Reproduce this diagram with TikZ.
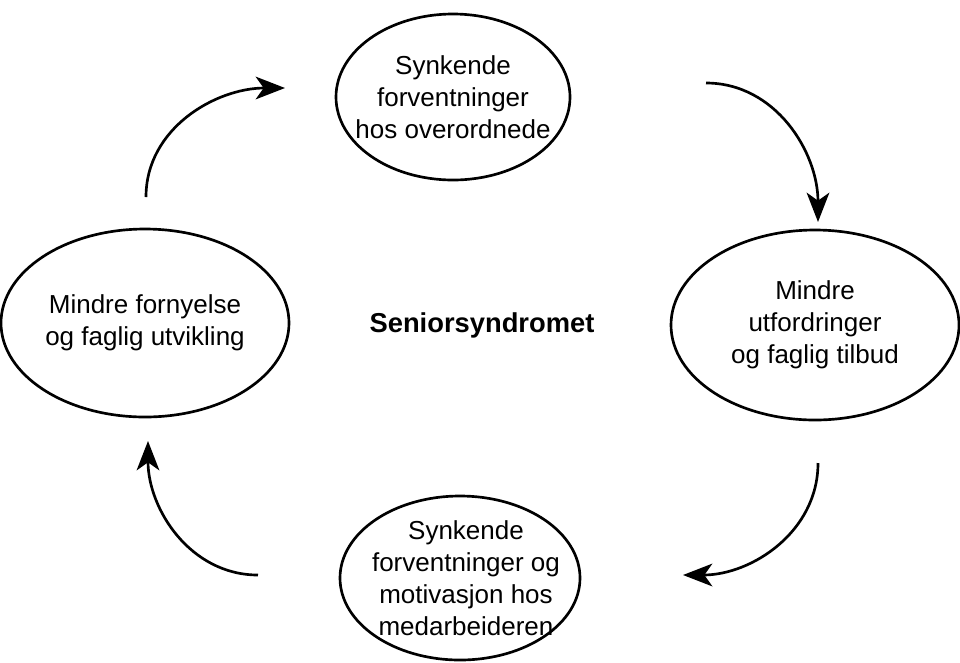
\documentclass[tikz,border=0pt]{standalone}
\usepackage{fontspec}
\setmainfont{Liberation Sans}
\usetikzlibrary{arrows.meta}
\begin{document}
\begin{tikzpicture}[x=0.75pt,y=-0.75pt,
  lbl/.style={align=center,font=\fontsize{19.5pt}{24pt}\selectfont},
  ell/.style={draw,line width=2pt},
  cyc/.style={line width=2pt,-{Stealth[length=22pt,width=17pt,inset=6pt]}}]
\useasboundingbox (0,0) rectangle (960,662);
\draw[ell] (453,97) ellipse[x radius=117,y radius=83];
\draw[ell] (815,325) ellipse[x radius=144,y radius=95];
\draw[ell] (460,578) ellipse[x radius=120,y radius=82];
\draw[ell] (145,323) ellipse[x radius=144,y radius=94];
\node[lbl] (top) at (453,97) {Synkende\\forventninger\\hos overordnede};
\node[lbl] (right) at (815,325) {Mindre\\utfordringer\\og faglig tilbud};
\node[lbl] (bottom) at (466,578) {Synkende\\forventninger og\\motivasjon hos\\medarbeideren};
\node[lbl] (left) at (145,323) {Mindre fornyelse\\og faglig utvikling};
\node[lbl,font=\fontsize{20.5pt}{24pt}\bfseries] (center) at (482,325) {Seniorsyndromet};
\coordinate (a1) at (706,83); \coordinate (a2) at (818,222);
\coordinate (b1) at (818,463); \coordinate (b2) at (683,575);
\coordinate (c1) at (258,575); \coordinate (c2) at (148,441);
\coordinate (d1) at (146,197); \coordinate (d2) at (285,88);
\draw[cyc] (a1) to[out=0,in=90] (a2);
\draw[cyc] (b1) to[out=-90,in=0] (b2);
\draw[cyc] (c1) to[out=180,in=-90] (c2);
\draw[cyc] (d1) to[out=90,in=180] (d2);
\end{tikzpicture}
\end{document}
